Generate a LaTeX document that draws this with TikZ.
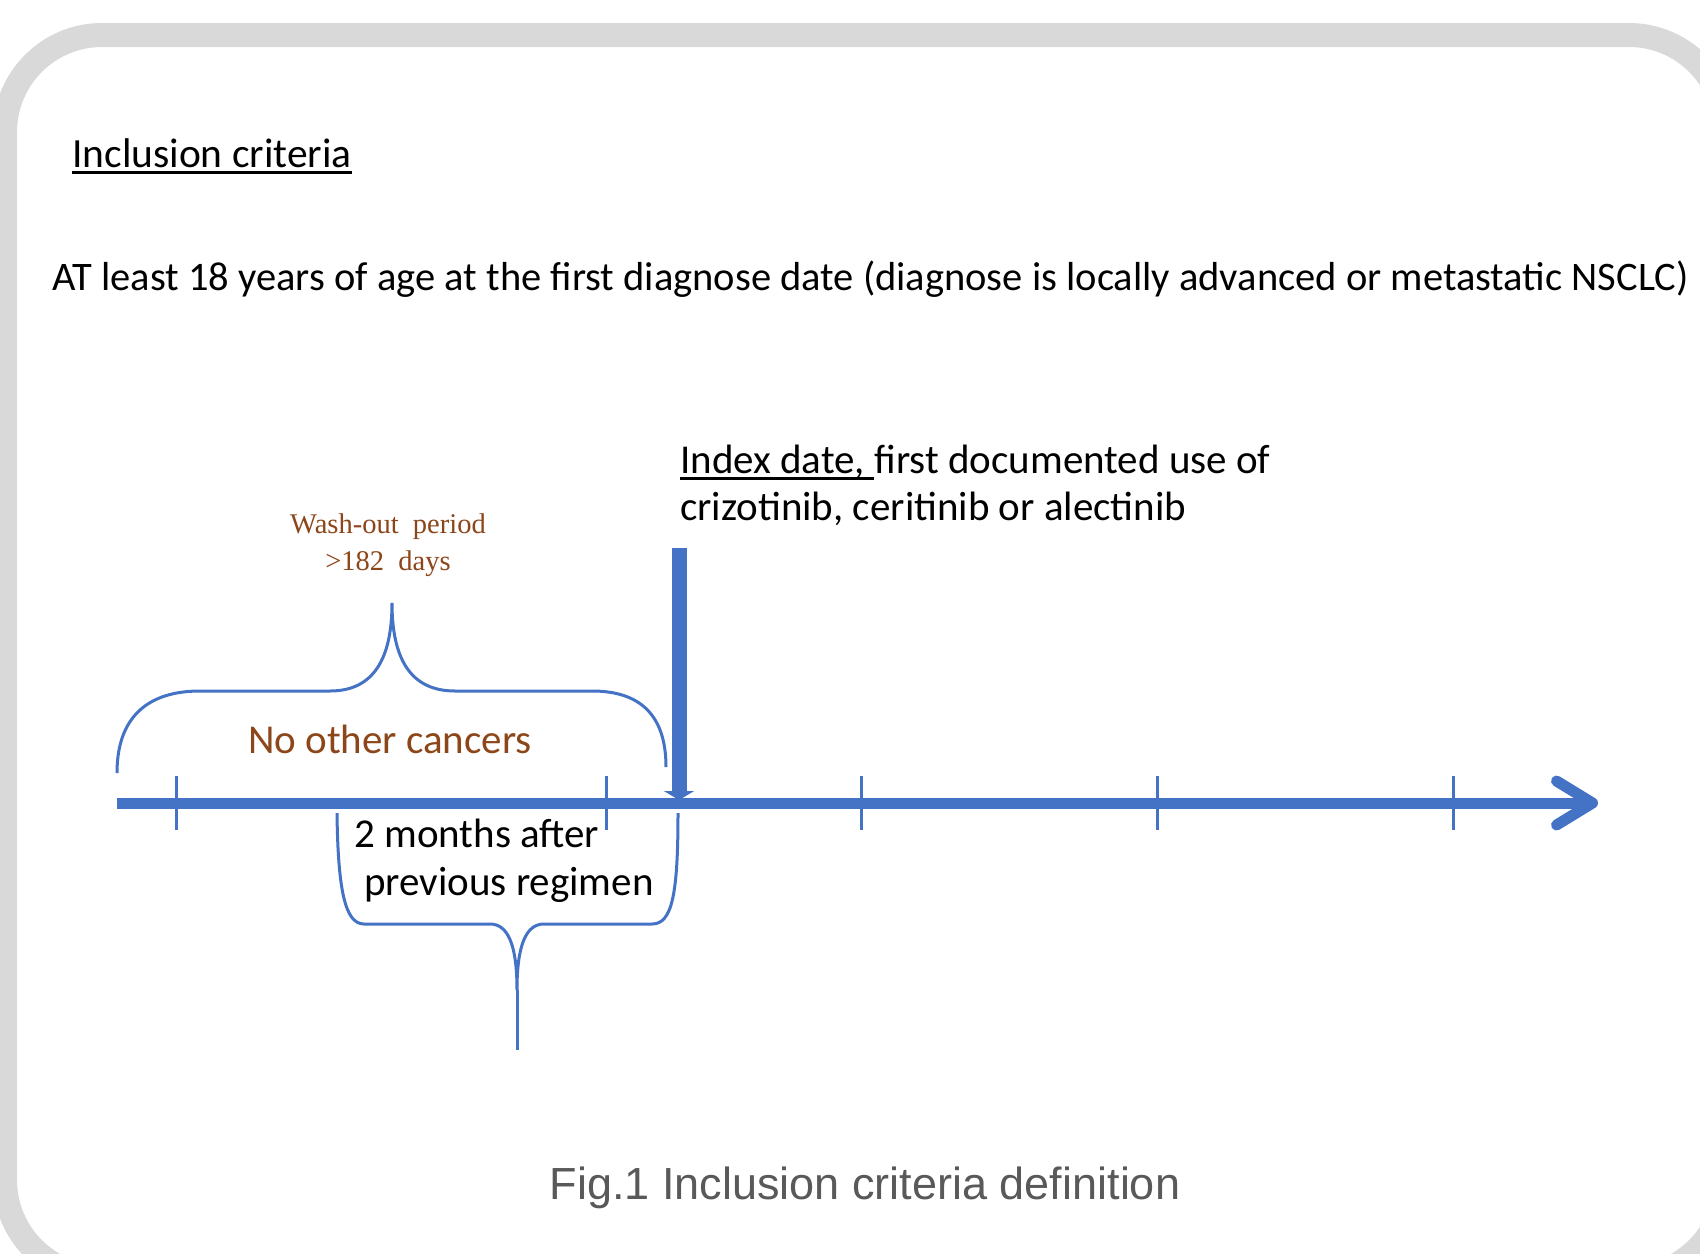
\documentclass[tikz,border=0pt]{standalone}
\usepackage{fontspec}
\setmainfont{Carlito}
\newfontfamily\washserif{Liberation Serif}
\newfontfamily\capsans{Liberation Sans}
\usetikzlibrary{arrows.meta}
\definecolor{OfficeBlue}{RGB}{68,114,196}
\definecolor{FrameGrey}{RGB}{217,217,217}
\definecolor{CancerBrown}{RGB}{140,70,25}
\definecolor{CaptionGrey}{RGB}{89,89,89}
\newsavebox{\ulsave}
\newcommand{\ulined}[1]{\sbox{\ulsave}{#1}\rlap{\rule[-6.5pt]{\wd\ulsave}{2.5pt}}\usebox{\ulsave}}

\begin{document}
\begin{tikzpicture}[x=1pt, y=-1pt,
  calib/.style={font=\fontsize{41}{48}\selectfont, inner sep=0pt, text=black},
  cancertext/.style={calib, text=CancerBrown},
  washtext/.style={font=\washserif\fontsize{28.5}{34}\selectfont, inner sep=0pt, text=CancerBrown},
  caption/.style={font=\capsans\fontsize{45}{52}\selectfont, inner sep=0pt, text=CaptionGrey},
  timeline/.style={draw=OfficeBlue, line width=11pt, -{Straight Barb[length=36pt, width=44pt, round]}},
  indexbar/.style={draw=OfficeBlue, line width=15pt, -{Triangle[length=9pt, width=30pt]}},
  tickmark/.style={draw=OfficeBlue, line width=3pt},
  bracket/.style={draw=OfficeBlue, line width=3pt}
]
  \useasboundingbox (0,0) rectangle (1700,1253);
  \clip (0,0) rectangle (1700,1253);
  \fill[white] (0,0) rectangle (1700,1253);
  \draw[FrameGrey, line width=24pt, rounded corners=97pt] (5,35) rectangle (1726,1277);

  \node[calib, anchor=base west, font=\fontsize{41.5}{48}\selectfont] (incl) at (72,167) {\ulined{Inclusion criteria}};
  \node[calib, anchor=base west, font=\fontsize{40.5}{48}\selectfont] (age) at (52,290) {AT least 18 years of age at the first diagnose date (diagnose is locally advanced or metastatic NSCLC)};

  \foreach \tx in {176,606,861,1157,1453}
    \draw[tickmark] (\tx,776) -- (\tx,830);
  \coordinate (tstart) at (117,803);
  \coordinate (tend) at (1598,803);
  \draw[timeline] (tstart) -- (tend);

  \coordinate (idxtop) at (679,548);
  \coordinate (idxfoot) at (679,800);
  \draw[indexbar] (idxtop) -- (idxfoot);
  \node[calib, anchor=base west] (index1) at (680,473) {\ulined{Index date,\ }first documented use of};
  \node[calib, anchor=base west] (index2) at ([yshift=-47pt]index1.base west) {crizotinib, ceritinib or alectinib};

  \draw[bracket] (117,773) .. controls (117,715) and (150,691) .. (200,691) -- (330,691)
    .. controls (374,691) and (392,658) .. (392,603)
    .. controls (392,658) and (410,691) .. (455,691) -- (592,691)
    .. controls (640,691) and (666,715) .. (666,767);
  \node[washtext, anchor=base] (wash1) at (388,533) {Wash-out\ \ period};
  \node[washtext, anchor=base] (wash2) at ([yshift=-37pt]wash1.base) {>182\ \ days};
  \node[cancertext, anchor=base] (nocancer) at (390,753) {No other cancers};

  \draw[bracket] (337,813) .. controls (338,890) and (345,924) .. (364,924) -- (490,924)
    .. controls (508,924) and (517,945) .. (517,990)
    .. controls (517,945) and (526,924) .. (544,924) -- (652,924)
    .. controls (672,924) and (678,895) .. (678,813);
  \draw[bracket] (517,990) -- (517,1050);
  \node[calib, anchor=base west] (months1) at (354,847) {2 months after};
  \node[calib, anchor=base west] (months2) at ([xshift=10pt, yshift=-48pt]months1.base west) {previous regimen};

  \node[caption, anchor=base] (figcap) at (865,1199) {Fig.1 Inclusion criteria definition};
\end{tikzpicture}
\end{document}
